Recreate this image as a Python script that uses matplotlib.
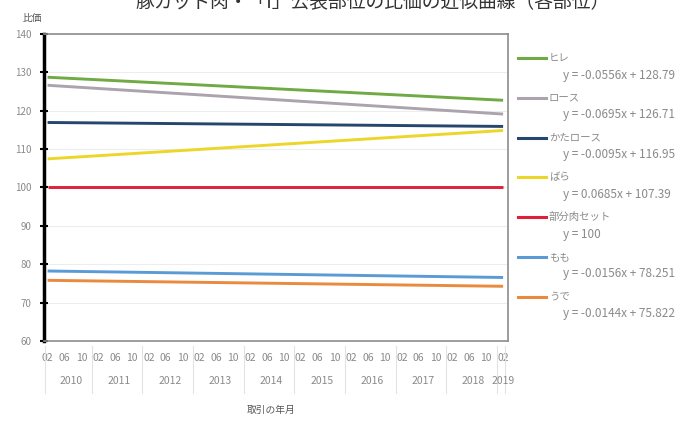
import matplotlib.pyplot as plt
import matplotlib.transforms as mtransforms
from matplotlib.lines import Line2D

plt.rcParams['font.family'] = ['Noto Sans CJK JP', 'DejaVu Sans']

# trend lines per cut: y = slope * x + intercept, x = month index (1 = 2010-02)
parts = ["ヒレ", "ロース", "かたロース", "ばら", "部分肉セット", "もも", "うで"]
slopes = [-0.0556, -0.0695, -0.0095, 0.0685, 0.0, -0.0156, -0.0144]
intercepts = [128.79, 126.71, 116.95, 107.39, 100.0, 78.251, 75.822]
equations = ["y = -0.0556x + 128.79", "y = -0.0695x + 126.71", "y = -0.0095x + 116.95",
             "y = 0.0685x + 107.39", "y = 100", "y = -0.0156x + 78.251", "y = -0.0144x + 75.822"]
colors = ["#6FAA45", "#ABA3AE", "#27466E", "#EDD62A", "#E0203A", "#5B9BD5", "#EA8A3E"]

years = [2010, 2011, 2012, 2013, 2014, 2015, 2016, 2017, 2018, 2019]
first_month = 2
n_months = 109
label_months = [2, 6, 10]

fig = plt.figure(figsize=(6.78, 4.24), dpi=100)
ax = fig.add_axes([0.0649, 0.1958, 0.684, 0.724])

x0, x1 = 1, n_months
for s, b, c in zip(slopes, intercepts, colors):
    ax.plot([x0, x1], [s * x0 + b, s * x1 + b], color=c, lw=2.1, solid_capstyle='butt', zorder=3)

ax.set_xlim(0.15, 110.1)
ax.set_ylim(60, 140)
ax.set_yticks(range(60, 141, 10))
ax.yaxis.grid(True, color="#EDEDED", lw=0.8)
ax.set_axisbelow(True)

for side in ["top", "right", "bottom"]:
    ax.spines[side].set_color("#8C8C8C")
    ax.spines[side].set_linewidth(1.2)
ax.spines["left"].set_color("black")
ax.spines["left"].set_linewidth(2.5)
ax.tick_params(axis='y', direction='inout', length=6, width=1.5, color='black',
               labelsize=7, labelcolor="#8A8A8A", pad=6)

# month ticks and year groups
ticks, tick_labels = [], []
year_spans = {}
for i in range(n_months):
    m = (first_month - 1 + i) % 12 + 1
    y = years[0] + (first_month - 1 + i) // 12
    idx = i + 1
    if m in label_months:
        ticks.append(idx)
        tick_labels.append(f"{m:02d}")
    lo, hi = year_spans.get(y, (idx, idx))
    year_spans[y] = (min(lo, idx), max(hi, idx))

ax.set_xticks(ticks)
ax.set_xticklabels(tick_labels)
ax.tick_params(axis='x', length=0, labelsize=7.5, labelcolor="#8A8A8A", pad=9)

trans = mtransforms.blended_transform_factory(ax.transData, ax.transAxes)
for y in years:
    lo, hi = year_spans[y]
    ax.text((lo + hi) / 2 + 0.5, -0.13, str(y), transform=trans, ha='center', va='center',
            fontsize=7.5, color="#8A8A8A")
    ax.add_line(Line2D([lo - 0.5, lo - 0.5], [-0.015, -0.17], transform=trans,
                       color="#E3E3E3", lw=0.8, clip_on=False))
ax.add_line(Line2D([n_months + 0.5, n_months + 0.5], [-0.015, -0.17], transform=trans,
                   color="#E3E3E3", lw=0.8, clip_on=False))

fig.text(0.033, 0.957, "比価", fontsize=7, color="#555555", ha='left', va='center')
fig.text(0.40, 0.032, "取引の年月", fontsize=7, color="#555555", ha='center', va='center')
fig.text(0.55, 0.995, "豚カット肉・「I」公表部位の比価の近似曲線（各部位）", fontsize=13.5,
         color="#333333", ha='center', va='center')

# legend with trend equations
top_px = 58
step_px = 39.8
for k, (name, eq, c) in enumerate(zip(parts, equations, colors)):
    yl = 1 - (top_px + k * step_px) / 424
    ye = 1 - (top_px + 17 + k * step_px) / 424
    fig.add_artist(Line2D([518 / 678, 546 / 678], [yl, yl], color=c, lw=2.2))
    fig.text(549 / 678, yl, name, fontsize=7.5, color="#8A8A8A", ha='left', va='center')
    fig.text(563 / 678, ye, eq, fontsize=8.5, color="#8A8A8A", ha='left', va='center')

fig.savefig("out.png", dpi=100, facecolor='white')
